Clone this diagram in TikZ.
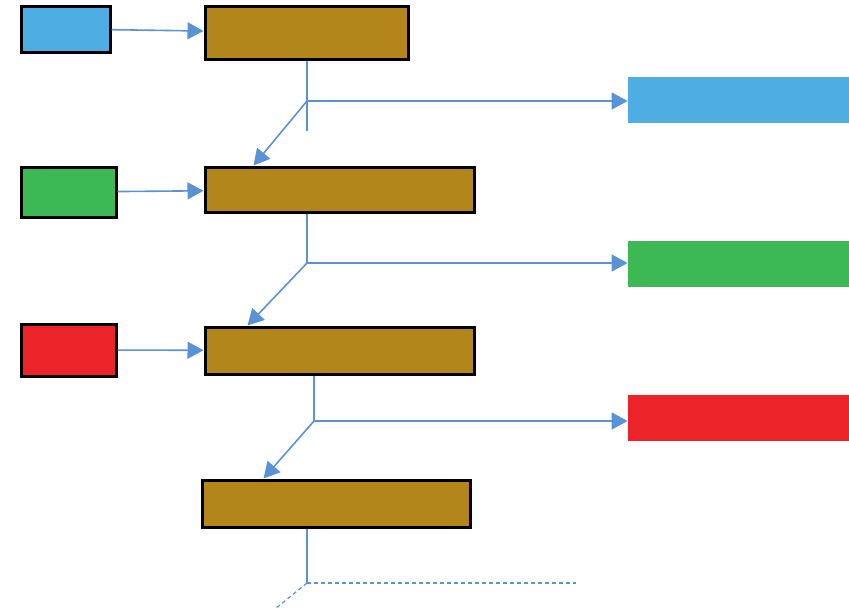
\documentclass[tikz,border=0pt]{standalone}
\usepackage{tikz}
\usetikzlibrary{arrows.meta, positioning}
\definecolor{inblue}{RGB}{78,174,228}
\definecolor{ingreen}{RGB}{60,185,85}
\definecolor{inred}{RGB}{236,35,40}
\definecolor{stagebrown}{RGB}{178,134,26}
\definecolor{linkblue}{RGB}{91,146,214}

\begin{document}
\begin{tikzpicture}[x=0.5pt, y=-0.5pt,
    src/.style={draw, line width=1.5pt, rectangle, inner sep=0pt},
    stage/.style={draw, line width=1.5pt, rectangle, fill=stagebrown, inner sep=0pt, minimum height=23.5pt},
    result/.style={rectangle, inner sep=0pt, minimum width=110.5pt, minimum height=23pt},
    link/.style={draw=linkblue, line width=0.8pt},
    linkarrow/.style={link, -{Triangle[length=8pt, width=8.5pt]}},
    linkdash/.style={draw=linkblue, line width=0.6pt, dash pattern=on 2pt off 1.5pt}]
        \useasboundingbox (0,0) rectangle (849,607);

        % inputs on the left
        \node[src, fill=inblue, minimum width=44.5pt, minimum height=23pt] (inblue) at (65.5,29) {};
        \node[src, fill=ingreen, minimum width=47.5pt, minimum height=25pt] (ingreen) at (68.5,192) {};
        \node[src, fill=inred, minimum width=47.5pt, minimum height=26pt] (inred) at (68.5,350) {};

        % chain of stages
        \node[stage, minimum width=101.5pt, minimum height=26.5pt] (stage1) at (306.5,32.5) {};
        \node[stage, minimum width=134.5pt, minimum height=22.5pt] (stage2) at (339.5,189.5) {};
        \node[stage, minimum width=134.5pt] (stage3) at (339.5,350.5) {};
        \node[stage, minimum width=134pt] (stage4) at (336,503.5) {};

        % outputs on the right
        \node[result, fill=inblue] (outblue) at (738.5,100) {};
        \node[result, fill=ingreen] (outgreen) at (738.5,263.5) {};
        \node[result, fill=inred] (outred) at (738.5,418) {};

        \coordinate (split1) at (307,101);
        \coordinate (tail1) at (307,131);
        \coordinate (split2) at (307,263);
        \coordinate (split3) at (314,421);
        \coordinate (split4) at (307,583);
        \coordinate (open4) at (576,583);
        \coordinate (down4) at (270,613);

        \draw[linkarrow] (inblue) -- (stage1);
        \draw[linkarrow] (ingreen) -- (stage2);
        \draw[linkarrow] (inred) -- (stage3);

        \draw[link] (stage1.south -| split1) -- (tail1);
        \draw[linkarrow] (split1) -- (split1 -| outblue.west);
        \draw[linkarrow] (split1) -- ([xshift=25pt]stage2.north west);

        \draw[link] (stage2.south -| split2) -- (split2);
        \draw[linkarrow] (split2) -- (split2 -| outgreen.west);
        \draw[linkarrow] (split2) -- ([xshift=22pt]stage3.north west);

        \draw[link] (stage3.south -| split3) -- (split3);
        \draw[linkarrow] (split3) -- (split3 -| outred.west);
        \draw[linkarrow] (split3) -- ([xshift=31.5pt]stage4.north west);

        \draw[link] (stage4.south -| split4) -- (split4);
        \draw[linkdash] (split4) -- (open4);
        \draw[linkdash] (split4) -- (down4);
    \end{tikzpicture}
\end{document}
